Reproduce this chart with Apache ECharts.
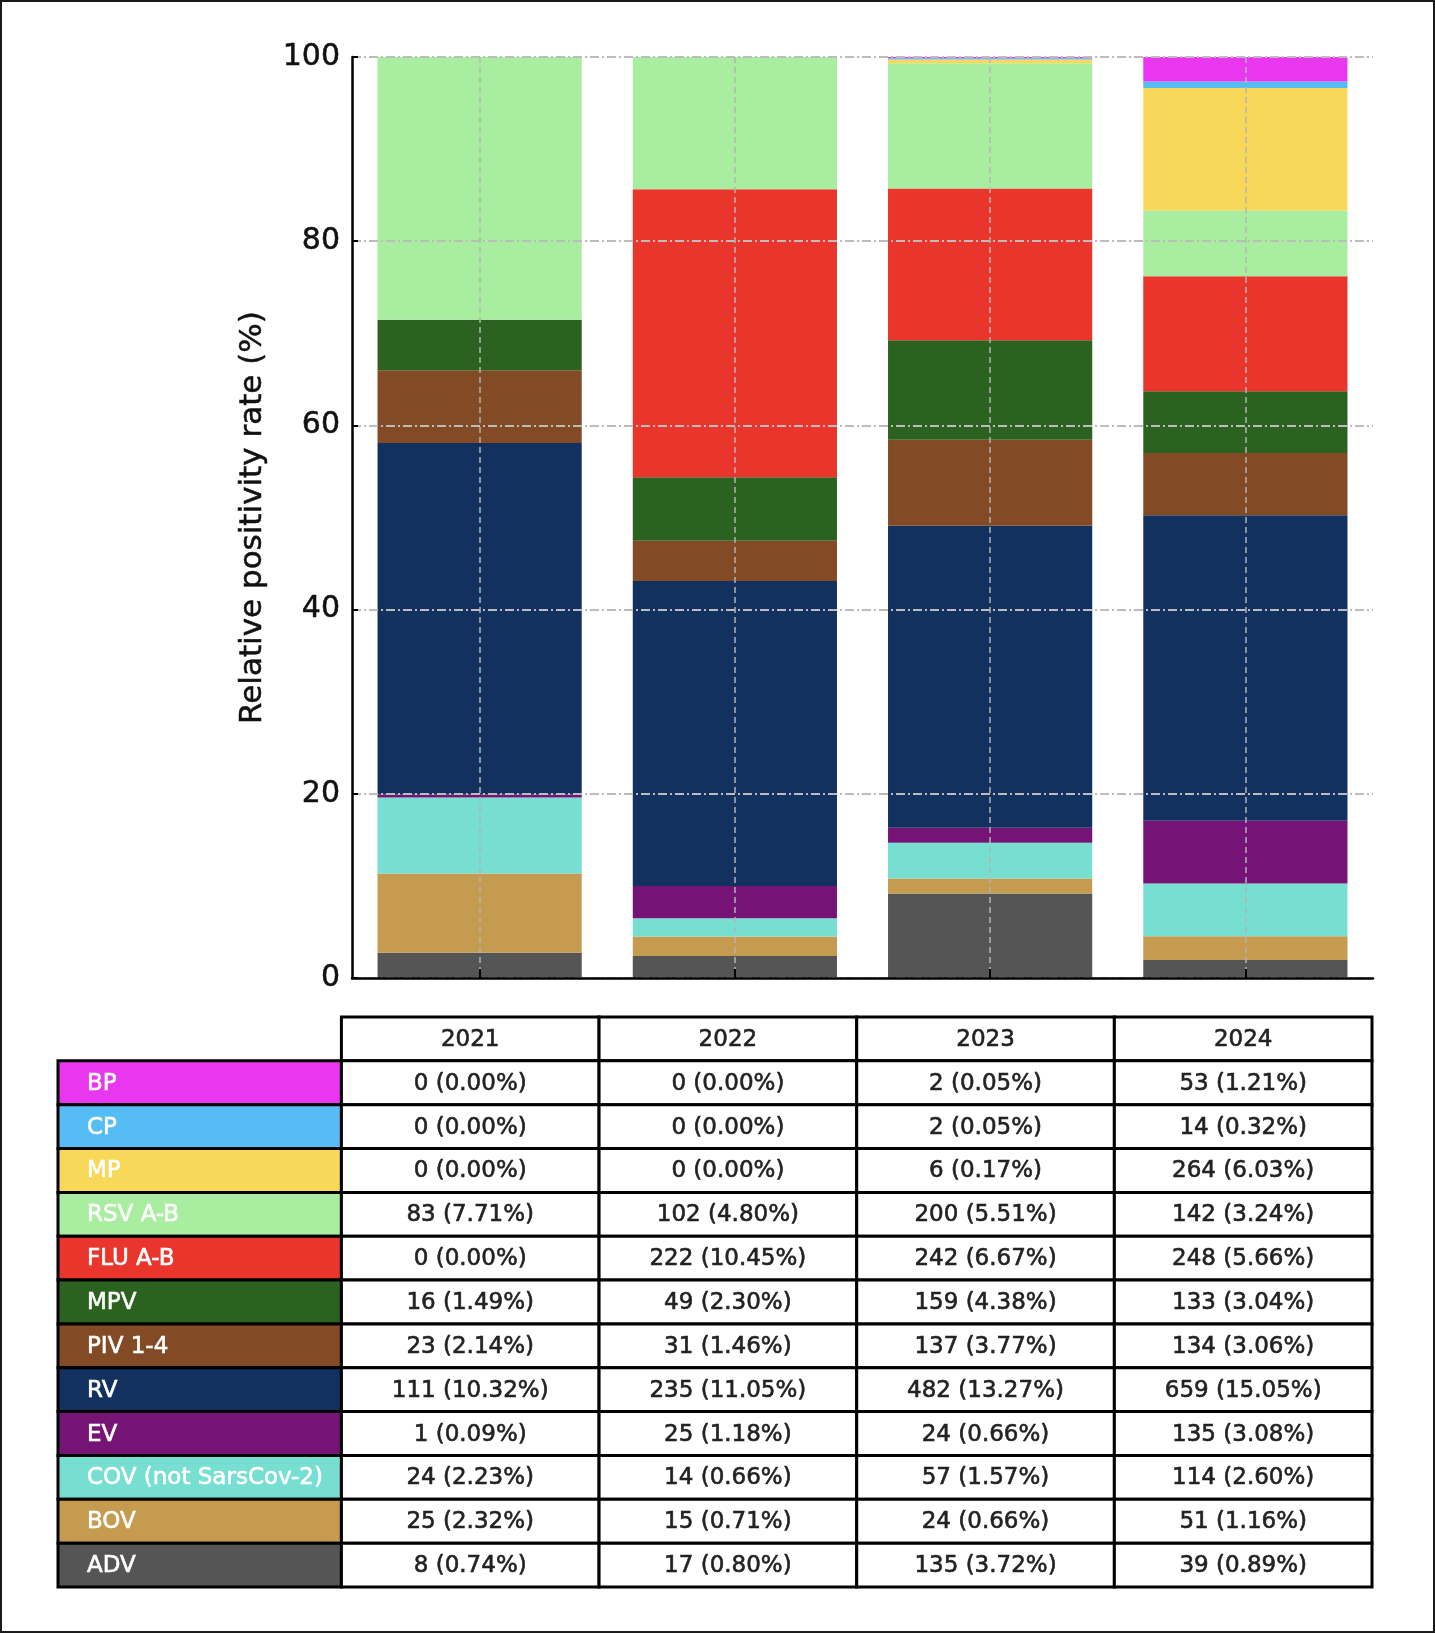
<!DOCTYPE html>
<html>
<head>
<meta charset="utf-8">
<title>Relative positivity rate by year</title>
<script src="https://cdn.jsdelivr.net/npm/echarts@6/dist/echarts.min.js"></script>
<style>
    html, body { margin: 0; padding: 0; background: #ffffff; }
    #chart { width: 1435px; height: 1633px; }
</style>
</head>
<body>
<div id="chart"></div>
<script>
    // table order, top to bottom (the bars stack the other way round)
    const years = ['2021', '2022', '2023', '2024'];
    const viruses = ['BP', 'CP', 'MP', 'RSV A-B', 'FLU A-B', 'MPV', 'PIV 1-4', 'RV', 'EV', 'COV (not SarsCov-2)', 'BOV', 'ADV'];
    const colors = ['#e936ef', '#56bcf4', '#f8d858', '#a8eda0', '#e9352b', '#2c6220', '#824a25', '#13315f', '#751474', '#76dfd1', '#c49b4f', '#555555'];

    // positive samples per year
    const counts = [
        [0, 0, 2, 53],        // BP
        [0, 0, 2, 14],        // CP
        [0, 0, 6, 264],       // MP
        [83, 102, 200, 142],  // RSV A-B
        [0, 222, 242, 248],   // FLU A-B
        [16, 49, 159, 133],   // MPV
        [23, 31, 137, 134],   // PIV 1-4
        [111, 235, 482, 659], // RV
        [1, 25, 24, 135],     // EV
        [24, 14, 57, 114],    // COV
        [25, 15, 24, 51],     // BOV
        [8, 17, 135, 39]      // ADV
    ];
    // rate printed in the table (%)
    const rates = [
        ['0.00', '0.00', '0.05', '1.21'],
        ['0.00', '0.00', '0.05', '0.32'],
        ['0.00', '0.00', '0.17', '6.03'],
        ['7.71', '4.80', '5.51', '3.24'],
        ['0.00', '10.45', '6.67', '5.66'],
        ['1.49', '2.30', '4.38', '3.04'],
        ['2.14', '1.46', '3.77', '3.06'],
        ['10.32', '11.05', '13.27', '15.05'],
        ['0.09', '1.18', '0.66', '3.08'],
        ['2.23', '0.66', '1.57', '2.60'],
        ['2.32', '0.71', '0.66', '1.16'],
        ['0.74', '0.80', '3.72', '0.89']
    ];
    const yTicks = [0, 20, 40, 60, 80, 100];

    const FONT = '"DejaVu Sans", Arial, sans-serif';

    const totals = years.map((y, j) => counts.reduce((s, row) => s + row[j], 0));

    // stacked bars, ADV at the bottom
    const barSeries = [];
    for (let i = viruses.length - 1; i >= 0; i--) {
        barSeries.push({
            name: viruses[i],
            type: 'bar',
            stack: 'share',
            xAxisIndex: 0,
            yAxisIndex: 0,
            barWidth: '80%',
            itemStyle: { color: colors[i] },
            data: years.map((y, j) => counts[i][j] / totals[j] * 100)
        });
    }

    // table cells: x runs -1.1..0 for the label column, j..j+1 for each year
    const rowKeys = ['header'].concat(viruses);
    const cells = [];
    years.forEach((y, j) => {
        cells.push({ x0: j, x1: j + 1, row: 0, text: y, fill: '#ffffff', color: '#222222', align: 'center' });
    });
    viruses.forEach((v, i) => {
        cells.push({ x0: -1.1, x1: 0, row: i + 1, text: v, fill: colors[i], color: '#ffffff', align: 'left' });
        years.forEach((y, j) => {
            cells.push({ x0: j, x1: j + 1, row: i + 1, text: counts[i][j] + ' (' + rates[i][j] + '%)', fill: '#ffffff', color: '#222222', align: 'center' });
        });
    });

    function renderCell(params, api) {
        const c = cells[params.dataIndex];
        const a = api.coord([api.value(0), api.value(2)]);
        const b = api.coord([api.value(1), api.value(2)]);
        const h = api.size([0, 1])[1];
        const x = a[0], y = a[1] - h / 2, w = b[0] - a[0];
        return {
            type: 'group',
            children: [
                { type: 'rect', shape: { x: x, y: y, width: w, height: h },
                  style: { fill: c.fill, stroke: '#000000', lineWidth: 3 } },
                { type: 'text',
                  style: { text: c.text, x: c.align === 'left' ? x + 29 : x + w / 2, y: y + h / 2 + 1,
                           align: c.align, verticalAlign: 'middle', fill: c.color,
                           stroke: c.color, lineWidth: 0.6,
                           fontSize: 23, fontFamily: FONT } }
            ]
        };
    }

    const chart = echarts.init(document.getElementById('chart'), null, { renderer: 'canvas' });

    const option = {
        animation: false,
        backgroundColor: '#ffffff',
        textStyle: { fontFamily: FONT },
        graphic: [{
            type: 'rect',
            shape: { x: 1, y: 1, width: 1433, height: 1631 },
            style: { fill: 'none', stroke: '#1a1a1a', lineWidth: 2 },
            silent: true
        }],
        grid: [
            { left: 352, top: 57, width: 1021, height: 921 },
            { left: 58, top: 1017, width: 1314, height: 570 }
        ],
        xAxis: [{
            gridIndex: 0,
            type: 'category',
            data: years,
            z: 5,
            axisLine: { lineStyle: { color: '#000', width: 2.5 } },
            axisTick: { show: true, inside: true, alignWithLabel: true, length: 9, lineStyle: { color: '#000', width: 2 } },
            axisLabel: { show: false },
            splitLine: { show: true, alignWithLabel: true, lineStyle: { color: '#b4b4b4', width: 1.5, type: [6, 4] } }
        }, {
            gridIndex: 1,
            type: 'value',
            min: -1.1,
            max: 4,
            show: false
        }],
        yAxis: [{
            gridIndex: 0,
            type: 'value',
            min: 0,
            max: 100,
            interval: 20,
            z: 5,
            name: 'Relative positivity rate (%)',
            nameLocation: 'middle',
            nameGap: 84,
            nameTextStyle: {
                fontSize: 31, color: '#111', fontFamily: FONT,
                textBorderColor: '#111', textBorderWidth: 0.5
            },
            axisLine: { show: true, lineStyle: { color: '#000', width: 2.5 } },
            axisTick: { show: true, inside: true, length: 6, lineStyle: { color: '#000', width: 2 } },
            axisLabel: {
                fontSize: 30, color: '#111', margin: 12, fontFamily: FONT,
                textBorderColor: '#111', textBorderWidth: 0.5,
                formatter: v => (yTicks.indexOf(v) >= 0 ? String(v) : '')
            },
            splitLine: { show: true, lineStyle: { color: '#bcbcbc', width: 2, type: [9, 3, 2, 3] } }
        }, {
            gridIndex: 1,
            type: 'category',
            data: rowKeys,
            inverse: true,
            show: false
        }],
        series: barSeries.concat([{
            type: 'custom',
            xAxisIndex: 1,
            yAxisIndex: 1,
            silent: true,
            clip: false,
            renderItem: renderCell,
            encode: { x: [0, 1], y: 2 },
            data: cells.map(c => [c.x0, c.x1, c.row])
        }])
    };

    chart.setOption(option);
</script>
</body>
</html>
